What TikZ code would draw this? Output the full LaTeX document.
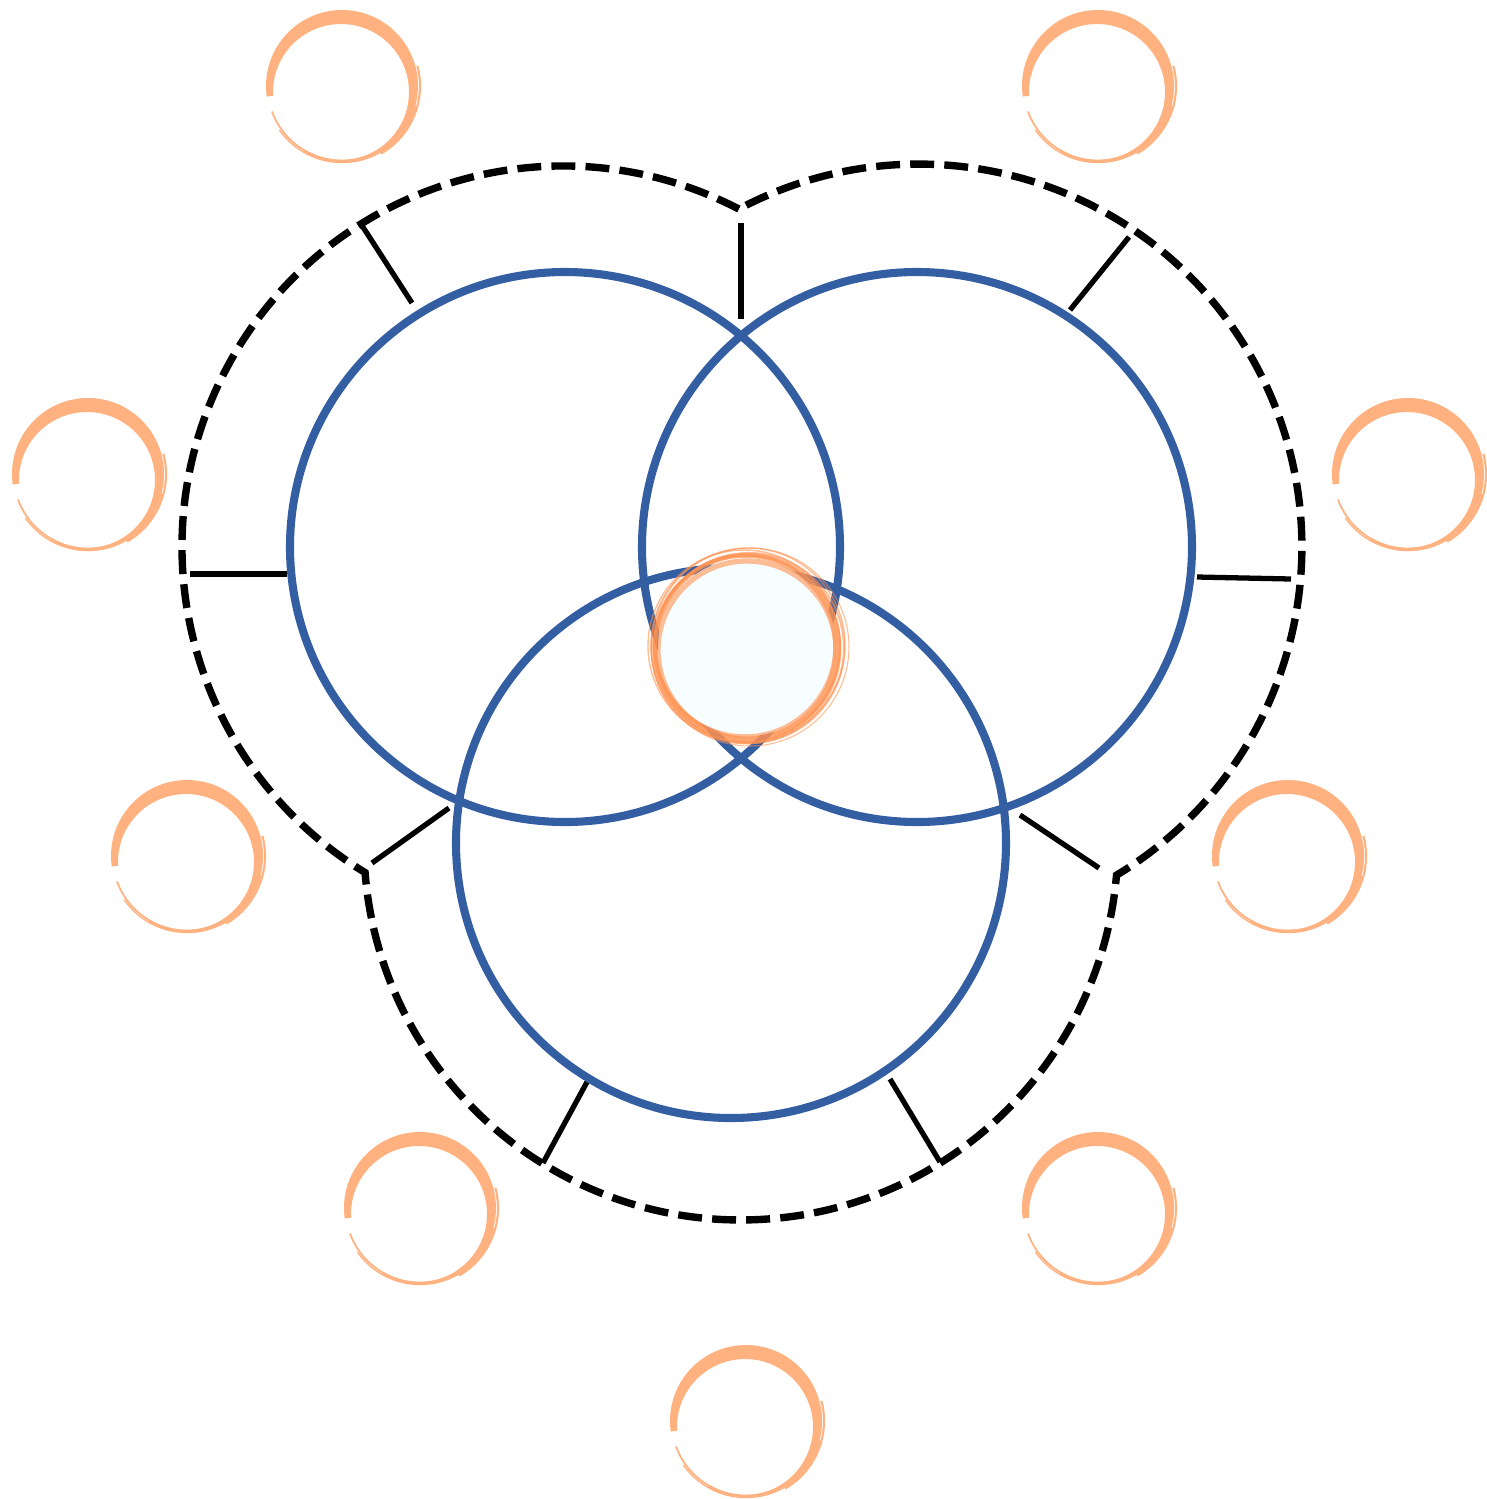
\documentclass[tikz,border=0pt]{standalone}
\usetikzlibrary{calc}
\definecolor{vblue}{RGB}{52,94,162}
\definecolor{ring}{RGB}{255,178,128}
\definecolor{ringdark}{RGB}{255,145,80}
\definecolor{corefill}{RGB}{247,254,255}
\tikzset{
  vennline/.style={draw=vblue, line width=2.3pt},
  outline/.style={draw=black, line width=2.1pt, dash pattern=on 6.8pt off 2.9pt},
  tick/.style={draw=black, line width=1.5pt},
  brush/.pic={
    \begin{scope}
      \clip (0,0) -- (188:110) -- (150:150) -- (90:150) -- (0:150) -- (-90:150) -- (240:110) -- cycle;
      \fill[ring, even odd rule] (0,0) circle[radius=76] (-1,-6) circle[radius=68];
    \end{scope}
    \draw[ring, line width=0.5pt] (200:74.5) arc[start angle=200, end angle=330, radius=74.5];
    \draw[ring, line width=0.4pt] (215:76.5) arc[start angle=215, end angle=345, radius=76.5];
    \draw[ring, line width=0.6pt] (-60:78) arc[start angle=-60, end angle=15, radius=78];
    \draw[ring, line width=0.4pt] (178:73) arc[start angle=178, end angle=150, radius=73];
  }
}
\begin{document}
\begin{tikzpicture}[x=0.01cm, y=0.01cm]
\useasboundingbox (0,0) rectangle (1487,-1499);
% centres
\coordinate (cL) at (565,-547);
\coordinate (cR) at (917,-547);
\coordinate (cB) at (731,-843);
\coordinate (dL) at (563,-547);
\coordinate (dR) at (919,-547);
\coordinate (dB) at (741,-843);
% dashed outline
\draw[outline] (dL) ++(62.5:381) arc[start angle=62.5, end angle=238.7, radius=381]
  arc[start angle=184.5, end angle=355.1, radius=377]
  arc[start angle=-58.93, end angle=118.05, radius=383] -- cycle;
% ticks
\coordinate (t1a) at (361,-224); \coordinate (t1b) at (412,-303);
\coordinate (t2a) at (741,-223); \coordinate (t2b) at (741,-319);
\coordinate (t3a) at (1129,-237); \coordinate (t3b) at (1070,-310);
\coordinate (t4a) at (190,-574); \coordinate (t4b) at (287,-574);
\coordinate (t5a) at (1197,-577); \coordinate (t5b) at (1291,-579);
\coordinate (t6a) at (372,-863); \coordinate (t6b) at (449,-808);
\coordinate (t7a) at (1020,-815); \coordinate (t7b) at (1099,-868);
\coordinate (t8a) at (587,-1082); \coordinate (t8b) at (543,-1163);
\coordinate (t9a) at (890,-1079); \coordinate (t9b) at (940,-1162);
\foreach \i in {1,...,9} \draw[tick] (t\i a) -- (t\i b);
% venn circles
\draw[vennline] (cL) circle[radius=275];
\draw[vennline] (cR) circle[radius=275];
\draw[vennline] (cB) circle[radius=275];
% centre circle
\coordinate (core) at (747,-647);
\fill[corefill] (core) circle[radius=89];
\foreach \dx/\dy/\r/\w in {0/0/92/1.2, 2/-1/95/0.6, -2/1/90/1.0, 1/2/97/0.4, -1/-2/94/0.8, 3/0/99/0.3, 0/-3/89/1.5, -3/1/96/0.4}
  \draw[ringdark, opacity=0.6, line width=\w pt] ($(core)+(\dx,\dy)$) circle[radius=\r];
% brush rings
\foreach \x/\y [count=\k] in {342/-86, 1098/-86, 88/-474, 1408/-474, 187/-856, 1288/-856, 420/-1208, 1098/-1208, 746/-1421}
  \pic (b\k) at (\x,\y) {brush};
\end{tikzpicture}
\end{document}
